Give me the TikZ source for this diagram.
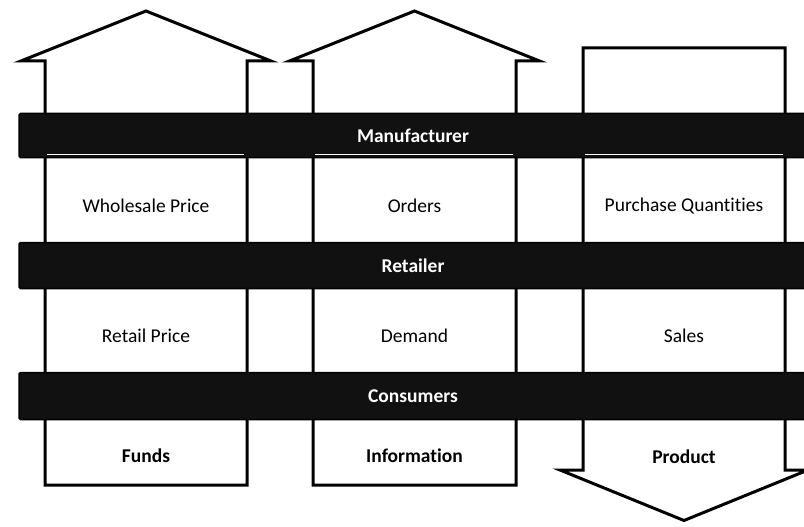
\documentclass[tikz,border=0pt]{standalone}
\usepackage{fontspec}
\setmainfont{Carlito}[Ligatures=NoCommon]
\definecolor{barfill}{HTML}{111111}
\begin{document}
\begin{tikzpicture}[x=1pt,y=-1pt,
  flow/.style={draw=black,fill=white,line width=3pt,line join=miter},
  band/.style={draw=black,fill=barfill,line width=1.5pt,rounded corners=1.5pt,
    minimum width=788pt,inner sep=0pt,text=white,
    font=\fontsize{19.5}{23}\selectfont\bfseries},
  lbl/.style={font=\fontsize{19.5}{23}\selectfont},
  blbl/.style={font=\fontsize{19.5}{23}\selectfont\bfseries},
  gap/.style={draw=white,line width=1pt}]
\useasboundingbox (0,0) rectangle (804,527);

% flow arrows
\draw[flow] (45,485) -- (45,61) -- (21,61) -- (146,11) -- (271,61) -- (247,61) -- (247,485) -- cycle;
\draw[flow] (313,485) -- (313,61) -- (289.5,61) -- (414.5,11) -- (539.5,61) -- (516,61) -- (516,485) -- cycle;
\draw[flow] (583,48) -- (785,48) -- (785,470) -- (808,470) -- (684,520.5) -- (560,470) -- (583,470) -- cycle;

% bands
\node[band,minimum height=44pt] (manu) at (413,135.5) {Manufacturer};
\node[band,minimum height=46pt] (ret) at (413,265.5) {Retailer};
\node[band,minimum height=47pt] (cons) at (413,396) {Consumers};

% thin white edges under the top band
\draw[gap] (47,154) -- (244,154);
\draw[gap] (315,154) -- (513,154);
\draw[gap] (585,154) -- (783,154);

% labels
\node[lbl] (wp) at (146,206) {Wholesale Price};
\node[lbl] (ord) at (414.5,206) {Orders};
\node[lbl] (pq) at (684,206) {Purchase Quantities};
\node[lbl] (rp) at (146,336) {Retail Price};
\node[lbl] (dem) at (414.5,336) {Demand};
\node[lbl] (sal) at (684,336) {Sales};
\node[blbl] (fun) at (146,456) {Funds};
\node[blbl] (inf) at (414.5,456) {Information};
\node[blbl] (prod) at (684,457) {Product};
\end{tikzpicture}
\end{document}
